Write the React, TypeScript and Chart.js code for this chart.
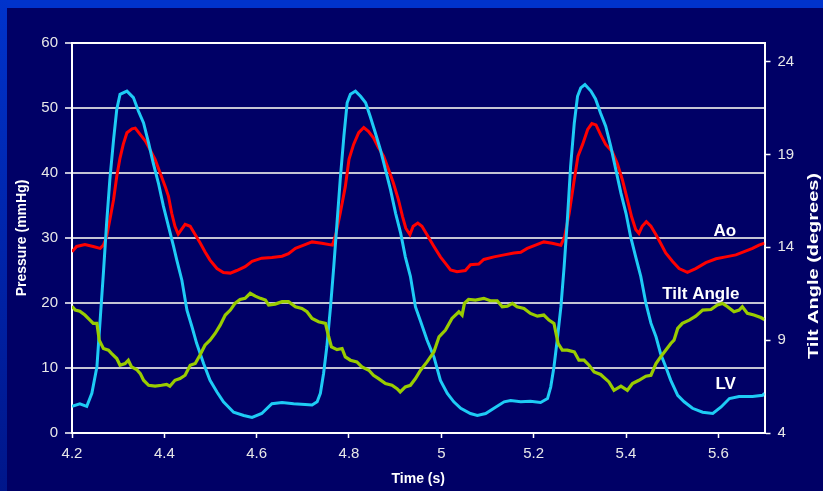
import React, { useEffect, useRef } from 'react';
import { Chart, registerables } from 'chart.js';

Chart.register(...registerables);

// ---- Data (time in s) ----
const aoTime = [4.200,4.210,4.228,4.246,4.261,4.268,4.275,4.282,4.290,4.297,4.304,4.311,4.319,4.330,4.337,4.348,4.359,4.369,4.380,4.391,4.402,4.409,4.416,4.423,4.430,4.438,4.445,4.456,4.467,4.478,4.488,4.499,4.514,4.528,4.543,4.557,4.575,4.590,4.611,4.633,4.655,4.669,4.684,4.702,4.720,4.741,4.764,4.772,4.781,4.792,4.800,4.810,4.821,4.832,4.842,4.853,4.864,4.875,4.886,4.896,4.907,4.916,4.923,4.932,4.939,4.949,4.958,4.969,4.984,4.998,5.009,5.020,5.034,5.052,5.063,5.081,5.092,5.114,5.136,5.157,5.172,5.186,5.204,5.222,5.240,5.259,5.267,5.277,5.288,5.296,5.306,5.317,5.326,5.335,5.345,5.356,5.370,5.381,5.392,5.403,5.412,5.421,5.428,5.435,5.444,5.454,5.465,5.475,5.486,5.501,5.515,5.533,5.551,5.573,5.595,5.616,5.638,5.656,5.674,5.688,5.700];
const aoPressure = [27.9,28.7,29.0,28.7,28.4,28.9,30.2,32.8,35.9,39.5,42.3,44.4,46.2,46.8,46.9,45.9,44.9,43.6,42.1,40.0,37.9,36.4,33.8,31.8,30.6,31.4,32.1,31.8,30.5,29.2,27.9,26.6,25.3,24.7,24.6,25.0,25.6,26.4,26.9,27.0,27.2,27.6,28.4,28.9,29.4,29.2,28.9,30.7,33.8,37.9,42.1,44.4,46.2,47.0,46.4,45.4,43.9,42.6,40.5,38.5,35.9,33.3,31.5,30.5,31.8,32.3,31.8,30.5,28.7,27.1,26.1,25.1,24.8,25.0,25.9,26.0,26.7,27.1,27.4,27.7,27.8,28.4,28.9,29.4,29.2,28.9,30.2,33.8,39.0,42.6,44.4,46.7,47.6,47.4,45.9,44.4,43.3,41.5,39.0,35.9,33.3,31.3,30.7,31.8,32.5,31.8,30.5,29.2,27.7,26.4,25.3,24.7,25.3,26.2,26.8,27.1,27.4,27.9,28.4,28.9,29.2];

const lvTime = [4.200,4.217,4.232,4.243,4.254,4.261,4.268,4.275,4.282,4.290,4.297,4.304,4.319,4.333,4.344,4.355,4.366,4.376,4.387,4.398,4.409,4.420,4.427,4.438,4.449,4.460,4.470,4.485,4.499,4.514,4.528,4.550,4.572,4.590,4.611,4.633,4.655,4.680,4.705,4.720,4.731,4.738,4.745,4.752,4.760,4.767,4.774,4.781,4.789,4.796,4.803,4.814,4.825,4.836,4.846,4.857,4.868,4.879,4.890,4.901,4.912,4.922,4.933,4.944,4.955,4.969,4.984,4.998,5.013,5.027,5.042,5.063,5.078,5.096,5.114,5.136,5.150,5.172,5.193,5.215,5.230,5.237,5.244,5.251,5.259,5.266,5.273,5.280,5.288,5.295,5.302,5.311,5.324,5.334,5.345,5.356,5.367,5.378,5.389,5.400,5.410,5.421,5.432,5.443,5.454,5.465,5.475,5.486,5.497,5.512,5.526,5.544,5.566,5.588,5.606,5.624,5.645,5.674,5.696,5.700];
const lvPressure = [4.1,4.5,4.1,6.1,10.2,17.4,24.6,32.3,39.0,45.1,49.8,52.1,52.6,51.6,49.5,47.7,44.6,41.5,38.5,34.9,31.8,28.7,26.6,23.5,18.9,16.3,13.8,10.7,8.1,6.3,4.8,3.2,2.7,2.4,3.0,4.5,4.7,4.5,4.4,4.3,4.8,6.1,9.2,13.3,19.4,25.6,32.3,39.0,45.7,50.8,52.1,52.6,51.8,50.8,48.7,46.2,43.6,40.5,37.4,33.8,30.7,27.1,24.1,19.4,17.2,14.3,11.7,8.1,6.1,4.8,3.8,3.0,2.7,3.0,3.8,4.8,5.0,4.8,4.9,4.7,5.3,7.1,10.2,14.3,19.4,25.6,32.8,41.0,47.7,51.8,53.1,53.6,52.6,51.4,49.2,47.2,44.1,40.5,36.9,33.8,30.2,27.1,24.1,20.0,16.9,14.8,12.2,10.2,8.1,5.8,4.8,3.8,3.2,3.0,4.0,5.3,5.6,5.6,5.8,6.1];

const tiltTime = [4.200,4.207,4.217,4.228,4.239,4.246,4.254,4.259,4.268,4.279,4.286,4.297,4.304,4.315,4.322,4.329,4.340,4.348,4.355,4.366,4.380,4.394,4.405,4.412,4.423,4.434,4.445,4.456,4.467,4.477,4.488,4.499,4.510,4.521,4.532,4.543,4.553,4.564,4.575,4.586,4.597,4.608,4.619,4.626,4.640,4.655,4.669,4.684,4.698,4.709,4.720,4.734,4.749,4.756,4.762,4.774,4.785,4.792,4.803,4.817,4.828,4.843,4.853,4.864,4.879,4.893,4.904,4.911,4.922,4.933,4.944,4.955,4.969,4.984,4.995,5.009,5.023,5.038,5.045,5.050,5.059,5.074,5.092,5.106,5.121,5.132,5.143,5.154,5.164,5.179,5.193,5.208,5.222,5.233,5.244,5.253,5.262,5.273,5.288,5.298,5.309,5.320,5.331,5.345,5.363,5.374,5.389,5.403,5.414,5.428,5.443,5.454,5.465,5.475,5.486,5.497,5.504,5.512,5.522,5.537,5.551,5.566,5.584,5.598,5.609,5.620,5.634,5.645,5.652,5.663,5.677,5.692,5.700];
const tiltAngle = [10.83,10.62,10.56,10.35,10.08,9.90,9.90,9.00,8.55,8.46,8.28,8.01,7.65,7.74,7.92,7.56,7.42,7.20,6.84,6.57,6.52,6.57,6.62,6.52,6.84,6.93,7.11,7.65,7.74,8.19,8.73,9.00,9.36,9.81,10.35,10.62,10.98,11.19,11.25,11.52,11.37,11.25,11.16,10.89,10.94,11.07,11.07,10.80,10.71,10.53,10.17,9.99,9.90,9.18,8.64,8.49,8.55,8.10,7.92,7.83,7.56,7.38,7.11,6.93,6.66,6.57,6.39,6.21,6.48,6.57,6.93,7.38,7.83,8.37,9.18,9.54,10.17,10.53,10.35,10.98,11.19,11.16,11.25,11.12,11.12,10.80,10.83,10.98,10.80,10.71,10.44,10.29,10.35,10.08,9.90,8.82,8.46,8.46,8.37,7.92,7.92,7.65,7.29,7.15,6.75,6.30,6.52,6.30,6.66,6.84,7.06,7.11,7.74,8.10,8.46,8.82,9.00,9.63,9.90,10.08,10.29,10.62,10.65,10.89,10.98,10.80,10.53,10.62,10.80,10.44,10.35,10.22,10.11];

const xTickValues = [4.2, 4.4, 4.6, 4.8, 5.0, 5.2, 5.4, 5.6];
const xTickLabels = ['4.2', '4.4', '4.6', '4.8', '5', '5.2', '5.4', '5.6'];
const pressureTicks = [0, 10, 20, 30, 40, 50, 60];
const angleTicks = [4, 9, 14, 19, 24];

const xTitle = 'Time (s)';
const leftTitle = 'Pressure (mmHg)';
const rightTitle = 'Tilt Angle (degrees)';

// ---- Layout / style (not data) ----
const FONT = "'Liberation Sans', Arial, Helvetica, sans-serif";
const W = 823;
const H = 491;
const seriesLabelPlacement = [
  { text: 'Ao', t: 5.614, p: 31.1 },
  { text: 'Tilt Angle', t: 5.562, p: 21.4 },
  { text: 'LV', t: 5.616, p: 7.5 },
];
const rightTitleBox = { cx: 814, cy: 266, length: 186 };

const toPoints = (xs: number[], ys: number[]) => xs.map((x, i) => ({ x, y: ys[i] }));

const framePlugin = {
  id: 'frame',
  beforeDraw(chart: any) {
    const { ctx, width, height } = chart;
    ctx.save();
    ctx.fillStyle = '#000066';
    ctx.fillRect(0, 0, width, height);
    ctx.fillStyle = '#0033CC';
    ctx.fillRect(0, 0, width, 8);
    const g = ctx.createLinearGradient(0, 0, 0, height);
    g.addColorStop(0, '#0033CC');
    g.addColorStop(1, '#00168A');
    ctx.fillStyle = g;
    ctx.fillRect(0, 0, 7, height);
    ctx.restore();
  },
  afterDraw(chart: any) {
    const { ctx } = chart;
    const xs = chart.scales.x;
    const ys = chart.scales.yP;
    ctx.save();
    ctx.fillStyle = '#FFFFFF';
    ctx.textAlign = 'center';
    ctx.textBaseline = 'middle';
    ctx.font = `bold 17px ${FONT}`;
    for (const a of seriesLabelPlacement) {
      ctx.fillText(a.text, xs.getPixelForValue(a.t), ys.getPixelForValue(a.p));
    }
    ctx.translate(rightTitleBox.cx, rightTitleBox.cy);
    ctx.rotate(-Math.PI / 2);
    ctx.font = `bold 14px ${FONT}`;
    const w = ctx.measureText(rightTitle).width;
    ctx.scale(rightTitleBox.length / w, 1);
    ctx.fillText(rightTitle, 0, 0);
    ctx.restore();
  },
};

export default function App() {
  const ref = useRef<HTMLCanvasElement | null>(null);

  useEffect(() => {
    if (!ref.current) return;
    const tickFont = { family: FONT, size: 15 };
    const titleFont = { family: FONT, size: 14, weight: 'bold' as const };
    const chart = new Chart(ref.current, {
      type: 'line',
      data: {
        datasets: [
          {
            label: 'Tilt Angle',
            data: toPoints(tiltTime, tiltAngle),
            yAxisID: 'yA',
            borderColor: '#99CC00',
            borderWidth: 3.2,
            pointRadius: 0,
            tension: 0,
            order: 1,
          },
          {
            label: 'LV',
            data: toPoints(lvTime, lvPressure),
            yAxisID: 'yP',
            borderColor: '#1ECBF5',
            borderWidth: 3,
            pointRadius: 0,
            tension: 0,
            order: 2,
          },
          {
            label: 'Ao',
            data: toPoints(aoTime, aoPressure),
            yAxisID: 'yP',
            borderColor: '#FF0000',
            borderWidth: 3,
            pointRadius: 0,
            tension: 0,
            order: 3,
          },
        ],
      },
      options: {
        animation: false,
        responsive: false,
        layout: { padding: { top: 43, left: 0, right: 0, bottom: 0 } },
        plugins: { legend: { display: false }, tooltip: { enabled: false } },
        scales: {
          x: {
            type: 'linear',
            min: 4.2,
            max: 5.7,
            afterBuildTicks: (s: any) => {
              s.ticks = xTickValues.map((v) => ({ value: v }));
            },
            afterFit: (s: any) => {
              s.height = 58;
            },
            ticks: {
              callback: (_v: any, i: number) => xTickLabels[i],
              color: '#E8E8E8',
              font: tickFont,
              padding: 7,
              maxRotation: 0,
              autoSkip: false,
            },
            grid: { drawOnChartArea: false, drawTicks: true, tickLength: 5, tickColor: '#FFFFFF', tickWidth: 1.5 },
            border: { color: '#FFFFFF', width: 2 },
            title: { display: true, text: xTitle, color: '#FFFFFF', font: titleFont, padding: { top: 0, bottom: 3 } },
          },
          yP: {
            type: 'linear',
            position: 'left',
            min: 0,
            max: 60,
            afterBuildTicks: (s: any) => {
              s.ticks = pressureTicks.map((v) => ({ value: v }));
            },
            afterFit: (s: any) => {
              s.width = 72;
            },
            ticks: { color: '#E8E8E8', font: tickFont, padding: 7 },
            grid: {
              color: (c: any) => (c.tick && c.tick.value === 60 ? '#FFFFFF' : '#C4C4D4'),
              lineWidth: 2,
              drawTicks: true,
              tickLength: 7,
              tickColor: '#FFFFFF',
              tickWidth: 1.5,
            },
            border: { color: '#FFFFFF', width: 2 },
            title: { display: true, text: leftTitle, color: '#FFFFFF', font: titleFont, padding: { top: 14, bottom: 0 } },
          },
          yA: {
            type: 'linear',
            position: 'right',
            min: 4,
            max: 25,
            afterBuildTicks: (s: any) => {
              s.ticks = angleTicks.map((v) => ({ value: v }));
            },
            afterFit: (s: any) => {
              s.width = 58.5;
            },
            ticks: { color: '#E8E8E8', font: tickFont, padding: 7 },
            grid: { drawOnChartArea: false, drawTicks: true, tickLength: 6, tickColor: '#FFFFFF', tickWidth: 1.5 },
            border: { color: '#FFFFFF', width: 2 },
          },
        },
      },
      plugins: [framePlugin],
    } as any);
    return () => chart.destroy();
  }, []);

  return (
    <div style={{ position: 'fixed', left: 0, top: 0, width: W, height: H, overflow: 'hidden' }}>
      <canvas ref={ref} width={W} height={H} style={{ display: 'block', width: W, height: H }} />
    </div>
  );
}
